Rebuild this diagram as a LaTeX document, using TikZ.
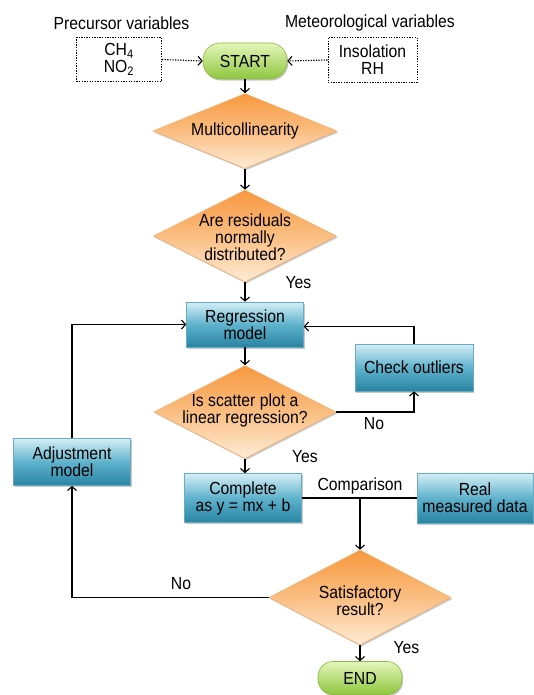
\documentclass[tikz,border=0pt]{standalone}
\usepackage{fontspec}
\setmainfont{Liberation Sans}[FakeStretch=0.9]
\usetikzlibrary{shapes.geometric,arrows.meta,shadows}
\definecolor{bluetop}{RGB}{212,239,246}
\definecolor{bluemid}{RGB}{95,178,204}
\definecolor{bluebot}{RGB}{40,132,163}
\definecolor{blueline}{RGB}{105,172,194}
\definecolor{ortop}{RGB}{247,152,62}
\definecolor{ormid}{RGB}{250,190,130}
\definecolor{orbot}{RGB}{254,236,214}
\definecolor{orline}{RGB}{244,178,112}
\definecolor{grtop}{RGB}{228,246,186}
\definecolor{grbot}{RGB}{142,198,62}
\definecolor{grline}{RGB}{140,184,64}
\begin{document}
\begin{tikzpicture}[x=1pt,y=-1pt,
  font=\fontsize{17.5}{17}\selectfont,
  shad/.style={drop shadow={shadow xshift=1.2pt,shadow yshift=-1.6pt,opacity=0.3,fill=black!70}},
  bluebox/.style={rectangle,draw=blueline,line width=0.6pt,top color=bluetop,bottom color=bluebot,middle color=bluemid,
    minimum width=117pt,minimum height=46pt,align=center,inner sep=0pt,shad},
  greenbox/.style={rectangle,rounded corners=17pt,draw=grline,line width=0.6pt,top color=grtop,bottom color=grbot,
    minimum width=84pt,minimum height=36pt,inner sep=0pt,shad},
  dia/.style={diamond,draw=orline,line width=0.6pt,top color=ortop,bottom color=orbot,middle color=ormid,inner sep=0pt,shad},
  diatext/.style={align=center,inner sep=0pt},
  dotbox/.style={rectangle,draw,line width=1pt,dash pattern=on 1.3pt off 1.3pt,fill=white,
    minimum width=85pt,minimum height=44pt,align=center,inner sep=0pt},
  lbl/.style={inner sep=0pt},
  arr/.style={line width=1.1pt,-{Straight Barb[length=4pt,width=9pt]}},
  darr/.style={line width=1.1pt,dash pattern=on 1.3pt off 1.3pt,-{Straight Barb[length=4pt,width=9pt]}},
  ln/.style={line width=1.1pt}
]
\useasboundingbox (0,0) rectangle (533,695);
\fill[white] (0,0) rectangle (533,695);

% top labels
\node[lbl] (prec) at (121.5,23) {Precursor variables};
\node[lbl] (meteo) at (370,23) {Meteorological variables};

% top row
\node[dotbox] (lbox) at (119,59.5) {CH\textsubscript{4}\\NO\textsubscript{2}};
\node[greenbox] (start) at (245,61) {START};
\node[dotbox,minimum width=89pt,minimum height=45pt] (rbox) at (372.5,60) {Insolation\\RH};

% main column
\node[dia,minimum width=184pt,minimum height=75pt] (multi) at (245,131) {};
\node[diatext] (multit) at (245,131) {Multicollinearity};
\node[dia,minimum width=183pt,minimum height=92pt] (resid) at (245,236) {};
\node[diatext] (residt) at (245,237) {Are residuals\\normally\\distributed?};
\node[bluebox,minimum height=45pt] (reg) at (245,324.5) {Regression\\model};
\node[dia,minimum width=182pt,minimum height=93pt] (scat) at (245,412) {};
\node[diatext] (scatt) at (245,410.5) {Is scatter plot a\\linear regression?};
\node[bluebox,minimum width=118pt,minimum height=47pt] (check) at (414,367.5) {Check outliers};
\node[bluebox,minimum height=47pt] (adj) at (72,462) {Adjustment\\model};
\node[bluebox,minimum height=49pt] (comp) at (243,498) {Complete\\as y = mx + b};
\node[bluebox,minimum width=116pt,minimum height=50pt] (real) at (475,498) {Real\\measured data};
\node[dia,minimum width=182pt,minimum height=95pt] (sat) at (360,597.5) {};
\node[diatext] (satt) at (360,601) {Satisfactory\\result?};
\node[greenbox,minimum height=33pt,rounded corners=15pt] (end) at (360,678) {END};

% labels
\node[lbl] (yes1) at (298.5,283) {Yes};
\node[lbl] (yes2) at (305,457) {Yes};
\node[lbl] (yes3) at (406.5,648) {Yes};
\node[lbl] (no1) at (374,424) {No};
\node[lbl] (no2) at (181,584) {No};
\node[lbl] (cmpl) at (360,485.5) {Comparison};

% connectors
\draw[darr] (lbox.east) -- (start.west);
\draw[darr] (rbox.west) -- (start.east);
\draw[arr] (start.south) -- (multi.north);
\draw[arr] (multi.south) -- (resid.north);
\draw[arr] (resid.south) -- (reg.north);
\draw[arr] (reg.south) -- (scat.north);
\draw[arr] (scat.south) -- (scat.south |- comp.north);
\draw[arr] (scat.east) -| (check.south);
\draw[arr] (check.north) |- ([yshift=-2pt]reg.east);
\draw[arr] (adj.north) |- (reg.west);
\draw[arr] (sat.west) -| (adj.south);
\coordinate (cmp) at (sat.north |- comp.east);
\draw[ln] (comp.east) -- (real.west);
\draw[arr] (cmp) -- (sat.north);
\draw[arr] (sat.south) -- (end.north);
\end{tikzpicture}
\end{document}
